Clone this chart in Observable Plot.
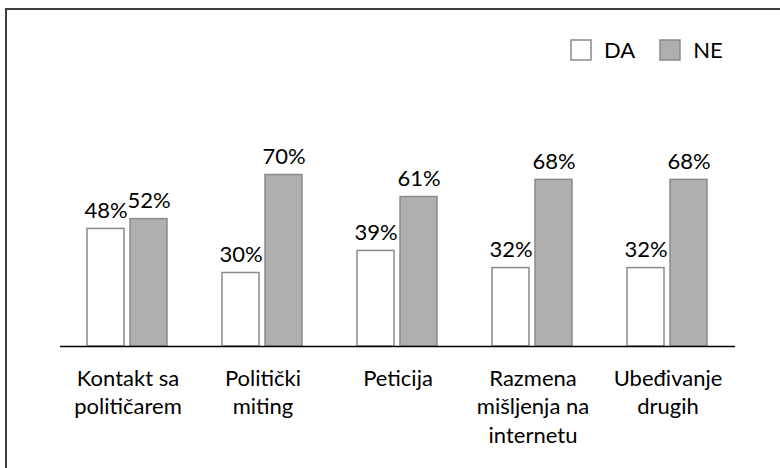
<!DOCTYPE html>
<html><head><meta charset="utf-8">
<script src="https://cdn.jsdelivr.net/npm/d3@7"></script>
<script src="https://cdn.jsdelivr.net/npm/@observablehq/plot@0.6"></script>
<style>
html,body{margin:0;padding:0;background:#fff;overflow:hidden;width:780px;height:468px}
#wrap{position:relative;width:780px;height:468px;font-family:Lato,sans-serif}
#frame{position:absolute;left:5px;top:8px;width:2000px;height:2000px;border:2px solid #404040;pointer-events:none}
#chart{position:absolute;left:0;top:0}
#legend{position:absolute;left:571px;top:33px}
.lg-swatches{font-family:Lato,sans-serif!important;font-size:22px!important;margin:0!important;color:#000!important;line-height:26px}
.lg-swatch{margin-right:25px!important}
.lg-swatch>svg{margin-right:13px!important}
.lg-swatch rect{stroke:#8a8a8a;stroke-width:1.5px}
</style>
</head><body>
<div id="wrap"><div id="chart"></div><div id="legend"></div><div id="frame"></div></div>
<script>
const categories = ["Kontakt sa političarem","Politički miting","Peticija","Razmena mišljenja na internetu","Ubeđivanje drugih"];
const categoryLabels = ["Kontakt sa\npolitičarem","Politički\nmiting","Peticija","Razmena\nmišljenja na\ninternetu","Ubeđivanje\ndrugih"];
const series = ["DA","NE"];
const daValues = [48,30,39,32,32];
const neValues = [52,70,61,68,68];
const seriesColors = ["#ffffff","#afafaf"];

const rows = [];
categories.forEach((c,i)=>{
  rows.push({category:c, series:"DA", value:daValues[i]});
  rows.push({category:c, series:"NE", value:neValues[i]});
});
const labelRows = categories.map((c,i)=>({category:c, label:categoryLabels[i]}));

const chart = Plot.plot({
  width:780, height:468,
  marginLeft:58, marginRight:44, marginTop:101, marginBottom:122,
  style:{fontFamily:"Lato, sans-serif", fontSize:"22px", color:"#000", background:"transparent"},
  fx:{domain:categories, padding:0, axis:null},
  x:{domain:series, paddingInner:0.1376, paddingOuter:0.624, axis:null},
  y:{domain:[0,100], axis:null},
  color:{domain:series, range:seriesColors},
  marks:[
    Plot.barY(rows,{fx:"category", x:"series", y:"value", fill:"series", stroke:"#8a8a8a", strokeWidth:1.5}),
    Plot.text(rows,{fx:"category", x:"series", y:"value", text:d=>d.value+"%", lineAnchor:"bottom", dy:-11, fontSize:22, fill:"#000"}),
    Plot.ruleY([0],{stroke:"#000", strokeWidth:1.5}),
    Plot.text(labelRows,{fx:"category", text:"label", frameAnchor:"bottom", lineAnchor:"top", dy:19, lineHeight:1.3, fontSize:22, fill:"#000"})
  ]
});
document.getElementById("chart").appendChild(chart);
const legend = Plot.legend({color:{domain:series, range:seriesColors}, legend:"swatches", swatchSize:20, className:"lg"});
document.getElementById("legend").appendChild(legend);
</script>
</body></html>
